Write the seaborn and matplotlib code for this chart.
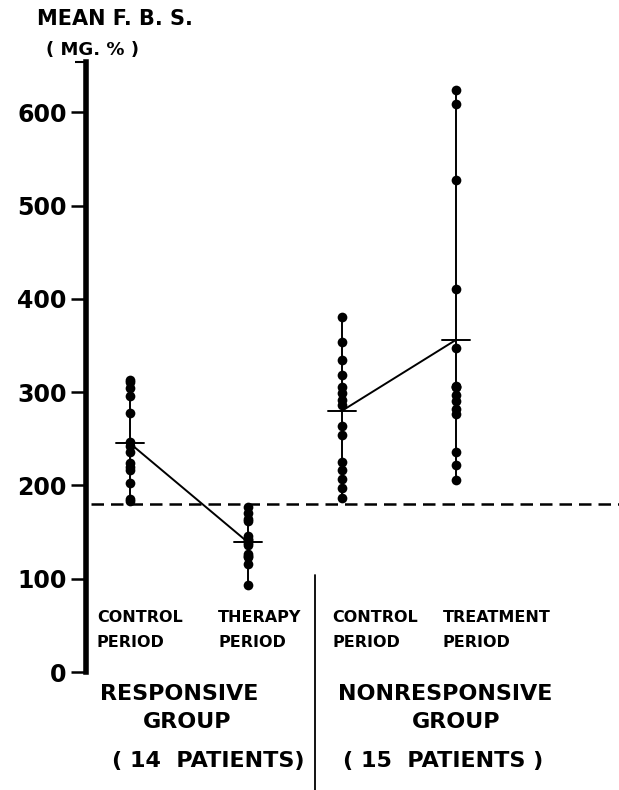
import numpy as np
import pandas as pd
import matplotlib
matplotlib.use('Agg')
import matplotlib.pyplot as plt
import seaborn as sns

# mean fasting blood sugar per patient (mg %)
resp_control = [313, 311, 304, 296, 278, 247, 242, 236, 224, 220, 216, 203, 185, 183]
resp_therapy = [177, 170, 164, 162, 146, 143, 141, 138, 136, 126, 124, 123, 116, 93]
nonresp_control = [380, 354, 334, 318, 305, 299, 292, 286, 264, 254, 225, 216, 207, 197, 187]
nonresp_treatment = [624, 609, 527, 411, 347, 307, 305, 305, 297, 290, 282, 277, 236, 222, 206]
group_means = [245, 139, 280, 356]
normal_limit = 180

period_labels = ['CONTROL\nPERIOD', 'THERAPY\nPERIOD', 'CONTROL\nPERIOD', 'TREATMENT\nPERIOD']
yticks = [0, 100, 200, 300, 400, 500, 600]

# layout: pixel anchors of the original figure
W, H = 619, 790
y0_px, px_per_unit = 672, 0.933
col_px = [130, 248, 342, 456]
x_scale = 118.0
spine_px = 86
label_left_px = [97, 218, 332, 443]


def data_x(px):
    return (px - col_px[0]) / x_scale


def data_y(py):
    return (y0_px - py) / px_per_unit


col_pos = [data_x(p) for p in col_px]
series = [resp_control, resp_therapy, nonresp_control, nonresp_treatment]
df = pd.DataFrame({
    'pos': np.concatenate([[p] * len(s) for p, s in zip(col_pos, series)]),
    'fbs': np.concatenate(series),
})

sns.set_style('white')
plt.rcParams['font.family'] = ['DejaVu Sans']
plt.rcParams['font.weight'] = 'bold'
plt.rcParams['text.color'] = 'black'
plt.rcParams['ytick.color'] = 'black'

top_px = 62
fig = plt.figure(figsize=(W / 100, H / 100), dpi=100)
ax = fig.add_axes([spine_px / W, (H - y0_px) / H, (W - spine_px) / W, (y0_px - top_px) / H])

sns.stripplot(data=df, x='pos', y='fbs', native_scale=True, orient='x', jitter=False,
              color='black', size=7, linewidth=0, ax=ax, zorder=3)

# vertical range lines and mean ticks
for p, s, m in zip(col_pos, series, group_means):
    ax.plot([p, p], [min(s), max(s)], color='black', lw=1.4, zorder=2)
    ax.plot([p - 0.12, p + 0.12], [m, m], color='black', lw=1.4, zorder=2)

# lines joining the means within each group
ax.plot(col_pos[:2], group_means[:2], color='black', lw=1.4, zorder=2)
ax.plot(col_pos[2:], group_means[2:], color='black', lw=1.4, zorder=2)

# upper normal limit
ax.axhline(normal_limit, xmin=0.01, color='black', lw=1.8, ls=(0, (5, 2.8)), zorder=1)

# separator between the two groups
sep_x = data_x(315)
ax.plot([sep_x, sep_x], [data_y(575), data_y(H + 5)], color='black', lw=1.3, clip_on=False)

for px, lab in zip(label_left_px, period_labels):
    for line, base_py in zip(lab.split('\n'), [622, 647]):
        ax.text(data_x(px), data_y(base_py), line, ha='left', va='baseline',
                fontsize=11.5, fontweight='bold')

ax.set_xlim(data_x(spine_px), data_x(W))
ax.set_ylim(0, data_y(top_px))
ax.set_yticks(yticks)
ax.set_yticklabels([str(t) for t in yticks], fontsize=17, fontweight='bold')
ax.set_yticks([data_y(top_px)], minor=True)
ax.tick_params(axis='y', which='major', left=True, length=11, width=1.8, pad=3, color='black')
ax.tick_params(axis='y', which='minor', left=True, length=8, width=1.5, color='black')
ax.set_xticks([])
ax.set_xlabel('')
ax.set_ylabel('')
for side in ['top', 'right', 'bottom']:
    ax.spines[side].set_visible(False)
ax.spines['left'].set_linewidth(4)
ax.spines['left'].set_color('black')

fig.text(37 / W, 1 - 25 / H, 'MEAN F. B. S.', ha='left', va='baseline', fontsize=15,
         fontweight='bold')
fig.text(92 / W, 1 - 55 / H, '( MG. % )', ha='center', va='baseline', fontsize=13,
         fontweight='bold')

group_text = [
    (179, 700, 'RESPONSIVE'), (187, 728, 'GROUP'), (208, 767, '( 14  PATIENTS)'),
    (445, 700, 'NONRESPONSIVE'), (456, 728, 'GROUP'), (443, 767, '( 15  PATIENTS )'),
]
for cx, by, txt in group_text:
    fig.text(cx / W, 1 - by / H, txt, ha='center', va='baseline', fontsize=16, fontweight='bold')

fig.savefig('out.png', dpi=100)
